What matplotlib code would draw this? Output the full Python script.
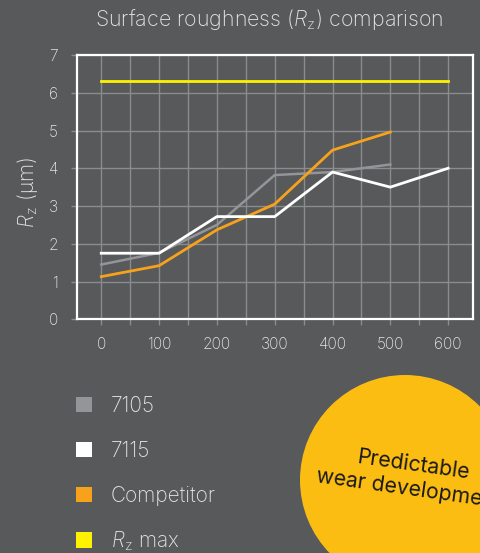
import matplotlib
matplotlib.use("Agg")
import matplotlib.pyplot as plt
from matplotlib.patches import Rectangle, Circle
from matplotlib.ticker import MultipleLocator
from matplotlib.transforms import IdentityTransform

FONT = "Inter"
plt.rcParams["font.family"] = [FONT, "DejaVu Sans"]
plt.rcParams["font.weight"] = "light"
plt.rcParams["mathtext.fontset"] = "custom"
plt.rcParams["mathtext.rm"] = f"{FONT}:light"
plt.rcParams["mathtext.it"] = f"{FONT}:italic:light"

# --- data -------------------------------------------------------------
distance = [0, 100, 200, 300, 400, 500, 600]
rz_7105 = [1.45, 1.76, 2.5, 3.82, 3.9, 4.1]
rz_7115 = [1.75, 1.75, 2.72, 2.72, 3.9, 3.5, 4.0]
rz_competitor = [1.13, 1.42, 2.37, 3.05, 4.48, 4.96]
rz_max = 6.3

x_ticks = [0, 100, 200, 300, 400, 500, 600]
y_ticks = [0, 1, 2, 3, 4, 5, 6, 7]

legend_labels = ["7105", "7115", "Competitor", r"$R_\mathrm{z}$ max"]

# --- style ------------------------------------------------------------
BG = "#58595b"
GRID = "#8b8c8e"
TEXT = "#e4e4e4"
C_7105 = "#939598"
C_7115 = "#ffffff"
C_COMP = "#f7a21b"
C_MAX = "#fff200"
C_BADGE = "#fcbd12"
legend_colors = [C_7105, C_7115, C_COMP, C_MAX]

W, H = 481, 553
fig = plt.figure(figsize=(W / 100, H / 100), dpi=100, facecolor=BG)

ax = fig.add_axes([76.7 / W, 1 - 319.3 / H, 396 / W, 264.3 / H], facecolor=BG)
ax.set_xlim(-42.5, 642.5)
ax.set_ylim(0, 7)
ax.set_xticks(x_ticks)
ax.set_yticks(y_ticks)
ax.xaxis.set_minor_locator(MultipleLocator(50))
ax.grid(True, which="major", color=GRID, linewidth=1.0)
ax.grid(True, which="minor", axis="x", color=GRID, linewidth=1.0)
ax.set_axisbelow(True)

for side in ax.spines.values():
    side.set_color("white")
    side.set_linewidth(1.6)

ax.tick_params(axis="both", which="both", direction="out", length=4,
               width=1, color=GRID, labelcolor=TEXT, labelsize=11.2)
ax.tick_params(axis="y", pad=9.4)
ax.tick_params(axis="x", pad=8.5)

ax.plot(distance[:len(rz_7105)], rz_7105, color=C_7105, lw=1.8, zorder=3)
ax.plot(distance[:len(rz_competitor)], rz_competitor, color=C_COMP, lw=2.0, zorder=4)
ax.plot(distance[:len(rz_7115)], rz_7115, color=C_7115, lw=2.0, zorder=5)
ax.plot([distance[0], distance[-1]], [rz_max, rz_max], color=C_MAX, lw=2.0, zorder=6)

# title and axis label
fig.text(269 / W, 1 - 26 / H, r"Surface roughness ($R_\mathrm{z}$) comparison",
         ha="center", va="baseline", color=TEXT, fontsize=15.4)
fig.text(27 / W, 1 - 192 / H, r"$R_\mathrm{z}$ (µm)", rotation=90,
         ha="center", va="center", color=TEXT, fontsize=15)

# legend
for i, (lab, col) in enumerate(zip(legend_labels, legend_colors)):
    yc = 404.3 + i * 45.2
    fig.add_artist(Rectangle((76 / W, 1 - (yc + 7.7) / H), 15.5 / W, 15.5 / H,
                             transform=fig.transFigure, facecolor=col,
                             edgecolor="none"))
    fig.text(111 / W, 1 - (yc + 7.5) / H, lab, ha="left", va="baseline",
             color=TEXT, fontsize=15)

# badge
fig.add_artist(Circle((405, H - 480), 105, transform=IdentityTransform(),
                      facecolor=C_BADGE, edgecolor="none"))
fig.text(411 / W, 1 - 477 / H, "Predictable\nwear development",
         ha="center", va="center", rotation=-8, rotation_mode="anchor",
         multialignment="center", linespacing=1.25,
         color="#1a1a1a", fontsize=15.3, fontweight="normal")

fig.savefig("out.png", dpi=100, facecolor=BG)
